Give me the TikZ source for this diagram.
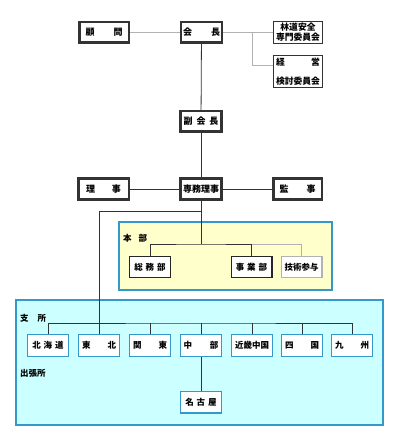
\documentclass[tikz,border=0pt]{standalone}
\usepackage{fontspec}
\setmainfont{Noto Sans CJK JP}
\usepackage{xcolor}
\usepackage{tikz}
\usetikzlibrary{positioning, calc}
\definecolor{frameblue}{RGB}{51,153,204}
\definecolor{hqfill}{RGB}{255,255,204}
\definecolor{brfill}{RGB}{204,255,255}
\newcommand{\spread}[2]{\makebox[#1]{#2}}
\tikzset{%
	officer/.style={draw=black!80, line width=2.5pt, fill=white, inner sep=0pt,%
		minimum width=41pt, minimum height=20.5pt, font=\fontsize{9}{10}\selectfont\bfseries},
	committee/.style={draw=black!80, line width=1.2pt, fill=white, inner sep=0pt, align=center,%
		minimum width=48.8pt, minimum height=21.8pt, font=\fontsize{8.8}{11}\selectfont\bfseries},
	dept/.style={draw=black!85, line width=1.2pt, fill=white, inner sep=0pt,%
		minimum width=40.8pt, minimum height=20.8pt, font=\fontsize{8.5}{10}\selectfont\bfseries},
	branch/.style={draw=frameblue, line width=1.2pt, fill=white, inner sep=0pt,%
		minimum width=40.8pt, minimum height=21.8pt, font=\fontsize{8.5}{10}\selectfont\bfseries},
	area/.style={draw=frameblue, line width=2pt},
	arealabel/.style={anchor=west, inner sep=0pt, font=\fontsize{8.5}{10}\selectfont\bfseries},
	link/.style={draw=black!80, line width=0.8pt},
	faint/.style={draw=black!30, line width=1pt}
}
\begin{document}
\begin{tikzpicture}[x=1pt, y=-1pt]
	\useasboundingbox (0,0) rectangle (400,446);
	\filldraw[area, fill=hqfill] (119,222) rectangle (332,290);
	\filldraw[area, fill=brfill] (16,300) rectangle (383,425);

	\node[officer, minimum width=49.5pt] (adviser) at (104,32.5) {\spread{37pt}{顧\hfill 問}};
	\node[officer] (pres) at (201.5,32.5) {\spread{37pt}{会\hfill 長}};
	\node[committee] (roadsafety) at (298,32.5) {林道安全\\[-1pt]専門委員会};
	\node[committee, minimum height=31.8pt] (mgmt) at (298,71.5) {\spread{44pt}{経\hfill 営}\\[8pt]検討委員会};
	\node[officer] (vice) at (201,121.5) {副\hspace{4pt}会\hspace{4pt}長};
	\node[officer] (exec) at (201,189) {専務理事};
	\node[officer, minimum width=50.5pt] (director) at (103.5,189) {\spread{35pt}{理\hfill 事}};
	\node[officer, minimum width=48.5pt] (auditor) at (297.5,189) {\spread{36pt}{監\hfill 事}};

	\node[arealabel] (hqlabel) at (123,238) {本\hspace{7pt}部};
	\node[dept] (general) at (150,267) {総\hspace{3pt}務\hspace{3pt}部};
	\node[dept] (business) at (251.5,267) {事\hspace{3pt}業\hspace{3pt}部};
	\node[dept, draw=black!30] (advisor) at (301.5,267) {技術参与};

	\node[arealabel] (brlabel) at (20,318) {支\hspace{9pt}所};
	\node[arealabel] (sublabel) at (20,373) {出張所};
	\node[branch] (hokkaido) at (48,345.5) {北\hspace{3pt}海\hspace{3pt}道};
	\node[branch] (tohoku) at (99,345.5) {\spread{34pt}{東\hfill 北}};
	\node[branch] (kanto) at (150,345.5) {\spread{34pt}{関\hfill 東}};
	\node[branch] (chubu) at (201,345.5) {\spread{35pt}{中\hfill 部}};
	\node[branch] (kinki) at (252,345.5) {近畿中国};
	\node[branch] (shikoku) at (302,345.5) {\spread{34pt}{四\hfill 国}};
	\node[branch] (kyushu) at (352,345.5) {\spread{34pt}{九\hfill 州}};
	\node[branch] (nagoya) at (201,402) {名\hspace{3pt}古\hspace{3pt}屋};

	\coordinate (cmtsplit) at (252,32.5);
	\coordinate (split) at (201,211);
	\coordinate (hqbus) at (201,244);
	\coordinate (brbus) at (201,323);

	\draw[faint, line width=0.6pt] (adviser) -- (pres);
	\draw[faint, line width=0.6pt] (pres) -- (roadsafety);
	\draw[faint] (cmtsplit) |- ([yshift=5.5pt]mgmt.west);
	\draw[link] (pres) -- (vice);
	\draw[link] (vice) -- (exec);
	\draw[link] (director) -- (exec);
	\draw[link] (exec) -- (auditor);
	\draw[link] (exec) -- (hqbus);
	\draw[link] (split) -| (tohoku);
	\draw[link] (general) |- (hqbus) -| (business);
	\draw[faint] (business.north |- hqbus) -| (advisor);
	\draw[link] (hokkaido) |- (brbus) -| (kyushu);
	\foreach \b in {kanto, chubu, kinki, shikoku}
		\draw[link] (\b) -- (\b.north |- brbus);
	\draw[link] (chubu) -- (nagoya);
\end{tikzpicture}
\end{document}
